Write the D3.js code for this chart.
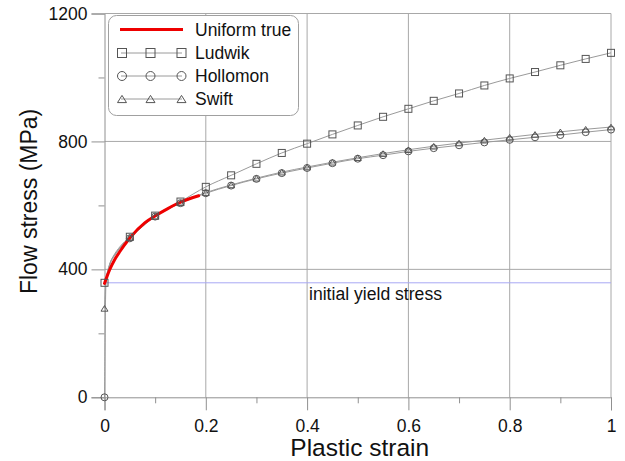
<!DOCTYPE html>
<html>
<head>
<meta charset="utf-8">
<script src="https://cdn.jsdelivr.net/npm/d3@7"></script>
<style>
  html, body { margin: 0; padding: 0; background: #fff; }
  svg { display: block; font-family: "Liberation Sans", Arial, sans-serif; }
</style>
</head>
<body>
<svg id="chart" width="625" height="461"></svg>
<script>
// Plastic strain at which model markers are plotted
const markerStrain = [0, 0.05, 0.1, 0.15, 0.2, 0.25, 0.3, 0.35, 0.4, 0.45, 0.5,
                      0.55, 0.6, 0.65, 0.7, 0.75, 0.8, 0.85, 0.9, 0.95, 1.0];
// Extra strain points near yield (lines only, no markers)
const earlyStrain = [0.003, 0.01, 0.02, 0.03];

// Flow stress (MPa) of the hardening models
const ludwik   = [358, 502, 568, 612, 658, 694, 730, 764, 793, 822, 850,
                  877, 902, 927, 950, 975, 997, 1017, 1038, 1058, 1077];
const hollomon = [0, 497, 565, 607, 638, 662, 683, 701, 717, 732, 746,
                  757, 769, 779, 788, 797, 805, 813, 820, 829, 837];
const swift    = [278, 500, 566, 608, 640, 664, 685, 704, 720, 735, 749,
                  762, 774, 785, 795, 804, 813, 822, 830, 838, 845];
const ludwikEarly   = [372, 416, 448, 470];
const hollomonEarly = [360, 412, 443, 465];
const swiftEarly    = [365, 414, 445, 467];

// Measured uniform true stress-strain curve
const uniformStrain = [0, 0.005, 0.01, 0.02, 0.03, 0.05, 0.08, 0.1, 0.125, 0.15, 0.186];
const uniformStress = [356, 378, 398, 430, 455, 498, 546, 567, 590, 610, 630];

const initialYield = 358;

const xTicks = [0, 0.2, 0.4, 0.6, 0.8, 1];
const xTickLabels = ["0", "0.2", "0.4", "0.6", "0.8", "1"];
const xMinor = [0.1, 0.3, 0.5, 0.7, 0.9];
const yTicks = [0, 400, 800, 1200];
const yMinor = [200, 600, 1000];

const svg = d3.select("#chart");
const x = d3.scaleLinear().domain([0, 1]).range([104.5, 611]);
const y = d3.scaleLinear().domain([0, 1200]).range([397.3, 13.5]);

const gridColor = "#a8a8a8";
const axisColor = "#909090";

// grid
svg.append("g").selectAll("line").data(xTicks.slice(1)).join("line")
  .attr("x1", d => x(d)).attr("x2", d => x(d))
  .attr("y1", y(1200)).attr("y2", y(0))
  .attr("stroke", gridColor).attr("stroke-width", 1);
svg.append("g").selectAll("line").data(yTicks.slice(1)).join("line")
  .attr("x1", x(0)).attr("x2", x(1))
  .attr("y1", d => y(d)).attr("y2", d => y(d))
  .attr("stroke", gridColor).attr("stroke-width", 1);

// axes
const xAxis = d3.axisBottom(x).tickValues(xTicks).tickSize(13)
  .tickFormat((d, i) => xTickLabels[i]).tickPadding(9);
const gx = svg.append("g").attr("transform", `translate(0,${y(0)})`).call(xAxis);
gx.select(".domain").attr("stroke", axisColor);
gx.selectAll(".tick line").attr("stroke", axisColor);
gx.selectAll("text").attr("font-size", 17.5).attr("fill", "#111")
  .attr("font-family", "Liberation Sans, Arial, sans-serif");
const gxm = svg.append("g").attr("transform", `translate(0,${y(0)})`)
  .call(d3.axisBottom(x).tickValues(xMinor).tickSize(6).tickFormat(""));
gxm.select(".domain").remove();
gxm.selectAll(".tick line").attr("stroke", axisColor);

const yAxis = d3.axisLeft(y).tickValues(yTicks).tickSize(13).tickPadding(4)
  .tickFormat(d3.format("d"));
const gy = svg.append("g").attr("transform", `translate(${x(0)},0)`).call(yAxis);
gy.select(".domain").attr("stroke", axisColor);
gy.selectAll(".tick line").attr("stroke", axisColor);
gy.selectAll("text").attr("font-size", 17.5).attr("fill", "#111")
  .attr("font-family", "Liberation Sans, Arial, sans-serif");
const gym = svg.append("g").attr("transform", `translate(${x(0)},0)`)
  .call(d3.axisLeft(y).tickValues(yMinor).tickSize(6).tickFormat(""));
gym.select(".domain").remove();
gym.selectAll(".tick line").attr("stroke", axisColor);

// axis titles
svg.append("text").attr("x", (x(0) + x(1)) / 2 + 2).attr("y", 456)
  .attr("text-anchor", "middle").attr("font-size", 24.5).attr("fill", "#111")
  .text("Plastic strain");
svg.append("text")
  .attr("transform", `translate(37,${(y(0) + y(1200)) / 2 - 4}) rotate(-90)`)
  .attr("text-anchor", "middle").attr("font-size", 23).attr("fill", "#111")
  .text("Flow stress (MPa)");

// initial yield stress
svg.append("line")
  .attr("x1", x(0)).attr("x2", x(1))
  .attr("y1", y(initialYield)).attr("y2", y(initialYield))
  .attr("stroke", "#a8a8f4").attr("stroke-width", 1);
svg.append("text").attr("x", 309).attr("y", 299.5)
  .attr("font-size", 17.6).attr("fill", "#111")
  .text("initial yield stress");

// model curves
const line = d3.line().x(d => x(d[0])).y(d => y(d[1])).curve(d3.curveMonotoneX);
function pairs(strains, values) { return strains.map((s, i) => [s, values[i]]); }
function lineData(vals, early) {
  return pairs(markerStrain, vals).concat(pairs(earlyStrain, early))
    .sort((a, b) => a[0] - b[0]);
}
const models = [
  { name: "Ludwik",   vals: ludwik,   early: ludwikEarly,   shape: "square" },
  { name: "Hollomon", vals: hollomon, early: hollomonEarly, shape: "circle" },
  { name: "Swift",    vals: swift,    early: swiftEarly,    shape: "triangle" }
];

const lineColor = "#9a9a9a";
const markColor = "#555";

models.forEach(m => {
  svg.append("path").datum(lineData(m.vals, m.early))
    .attr("d", line).attr("fill", "none")
    .attr("stroke", lineColor).attr("stroke-width", 1);
});

// measured curve
svg.append("path").datum(pairs(uniformStrain, uniformStress))
  .attr("d", line).attr("fill", "none")
  .attr("stroke", "#ee0000").attr("stroke-width", 3).attr("stroke-linecap", "round");

function drawMarker(g, shape, cx, cy, s) {
  if (shape === "square") {
    g.append("rect").attr("x", cx - s / 2).attr("y", cy - s / 2)
      .attr("width", s).attr("height", s);
  } else if (shape === "circle") {
    g.append("circle").attr("cx", cx).attr("cy", cy).attr("r", s / 2);
  } else {
    const h = s * 0.8;
    g.append("path").attr("d",
      `M${cx - s / 2},${cy + h / 2}L${cx + s / 2},${cy + h / 2}L${cx},${cy - h / 2}Z`);
  }
}

models.forEach(m => {
  const g = svg.append("g").attr("fill", "none").attr("stroke", markColor).attr("stroke-width", 1);
  pairs(markerStrain, m.vals).forEach(p => drawMarker(g, m.shape, x(p[0]), y(p[1]), 7));
});

// legend
const lg = svg.append("g");
lg.append("rect").attr("x", 108.5).attr("y", 15.5).attr("width", 190).attr("height", 100)
  .attr("rx", 8).attr("fill", "#fff").attr("stroke", "#a0a0a0").attr("stroke-width", 1);
const legendRows = [
  { label: "Uniform true", y: 29.5, shape: null },
  { label: "Ludwik", y: 53, shape: "square" },
  { label: "Hollomon", y: 76, shape: "circle" },
  { label: "Swift", y: 99, shape: "triangle" }
];
legendRows.forEach(r => {
  if (r.shape === null) {
    lg.append("line").attr("x1", 120).attr("x2", 183).attr("y1", r.y).attr("y2", r.y)
      .attr("stroke", "#ee0000").attr("stroke-width", 3);
  } else {
    lg.append("line").attr("x1", 121).attr("x2", 182).attr("y1", r.y).attr("y2", r.y)
      .attr("stroke", lineColor).attr("stroke-width", 1);
    const g = lg.append("g").attr("fill", "none").attr("stroke", markColor).attr("stroke-width", 1);
    [122, 150.5, 181.5].forEach(cx => drawMarker(g, r.shape, cx, r.y, 9));
  }
  lg.append("text").attr("x", 195).attr("y", r.y + 6).attr("font-size", 17.5)
    .attr("fill", "#111").text(r.label);
});
</script>
</body>
</html>
